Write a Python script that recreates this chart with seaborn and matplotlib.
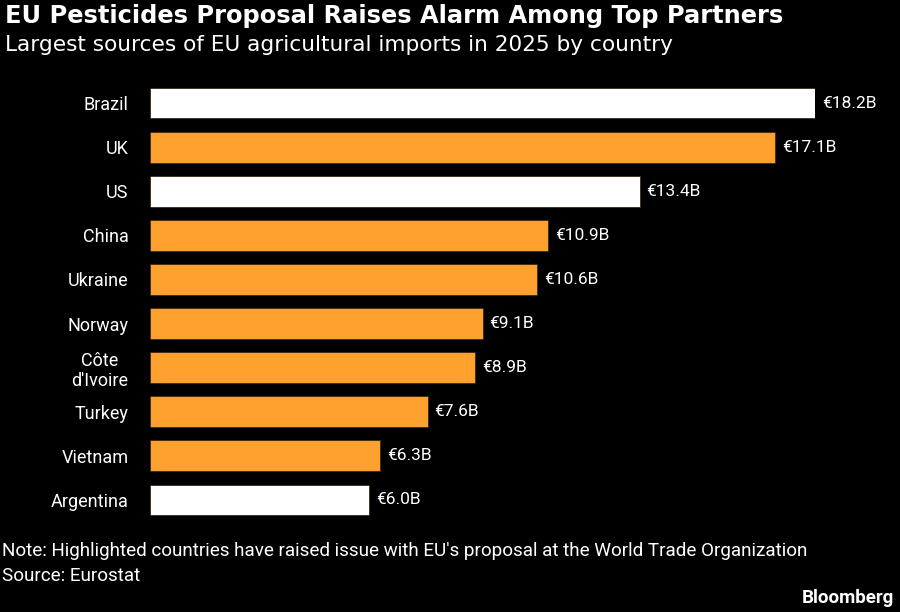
import matplotlib
matplotlib.use("Agg")
import matplotlib.pyplot as plt
import seaborn as sns
import pandas as pd

countries = ["Brazil", "UK", "US", "China", "Ukraine", "Norway",
             "Côte\nd'Ivoire", "Turkey", "Vietnam", "Argentina"]
values = [18.2, 17.1, 13.4, 10.9, 10.6, 9.1, 8.9, 7.6, 6.3, 6.0]
highlighted = [False, True, False, True, True, True, True, True, True, False]

ORANGE = "#FFA12F"
WHITE = "#FFFFFF"
BG = "#000000"

sns.set_theme(style="white")
plt.rcParams['font.family'] = ['Roboto', 'DejaVu Sans']

df = pd.DataFrame({"country": countries, "value": values,
                   "group": ["hi" if h else "no" for h in highlighted]})

fig = plt.figure(figsize=(9, 6.12), dpi=100, facecolor=BG)
ax = fig.add_axes([150/900, 1-522/612, (815-150)/900, (522-81)/612])
ax.set_facecolor(BG)

sns.barplot(data=df, x="value", y="country", hue="group",
            palette={"hi": ORANGE, "no": WHITE}, dodge=False, legend=False,
            width=0.7, saturation=1, edgecolor="#3a2a10", linewidth=0.6,
            ax=ax, orient="h")

ax.set_xlim(0, 18.2)
ax.set_ylim(9.5, -0.5)
ax.set_xlabel("")
ax.set_ylabel("")
ax.set_xticks([])
for s in ax.spines.values():
    s.set_visible(False)
ax.tick_params(axis="y", length=0, pad=15.5, labelsize=13, labelcolor="#FFFFFF")
for lab in ax.get_yticklabels():
    lab.set_multialignment("center")
    lab.set_horizontalalignment("right")

for i, v in enumerate(values):
    ax.text(v + 0.19, i, f"€{v:.1f}B", va="center", ha="left", color="white",
            fontsize=12.5, clip_on=False)

fig.text(5/900, 1-16/612, "EU Pesticides Proposal Raises Alarm Among Top Partners",
         color="white", fontsize=17.4, fontweight="bold", family="DejaVu Sans",
         va="center", ha="left")
fig.text(5/900, 1-45/612, "Largest sources of EU agricultural imports in 2025 by country",
         color="white", fontsize=15.6, family="DejaVu Sans", va="center", ha="left")
fig.text(2/900, 1-551/612,
         "Note: Highlighted countries have raised issue with EU's proposal at the World Trade Organization",
         color="white", fontsize=13.6, va="center", ha="left")
fig.text(2/900, 1-576/612, "Source: Eurostat", color="white", fontsize=13.6,
         va="center", ha="left")
fig.text(894/900, 1-598/612, "Bloomberg", color="white", fontsize=13.5,
         fontweight="bold", va="center", ha="right")

fig.savefig("out.png", dpi=100, facecolor=BG)
